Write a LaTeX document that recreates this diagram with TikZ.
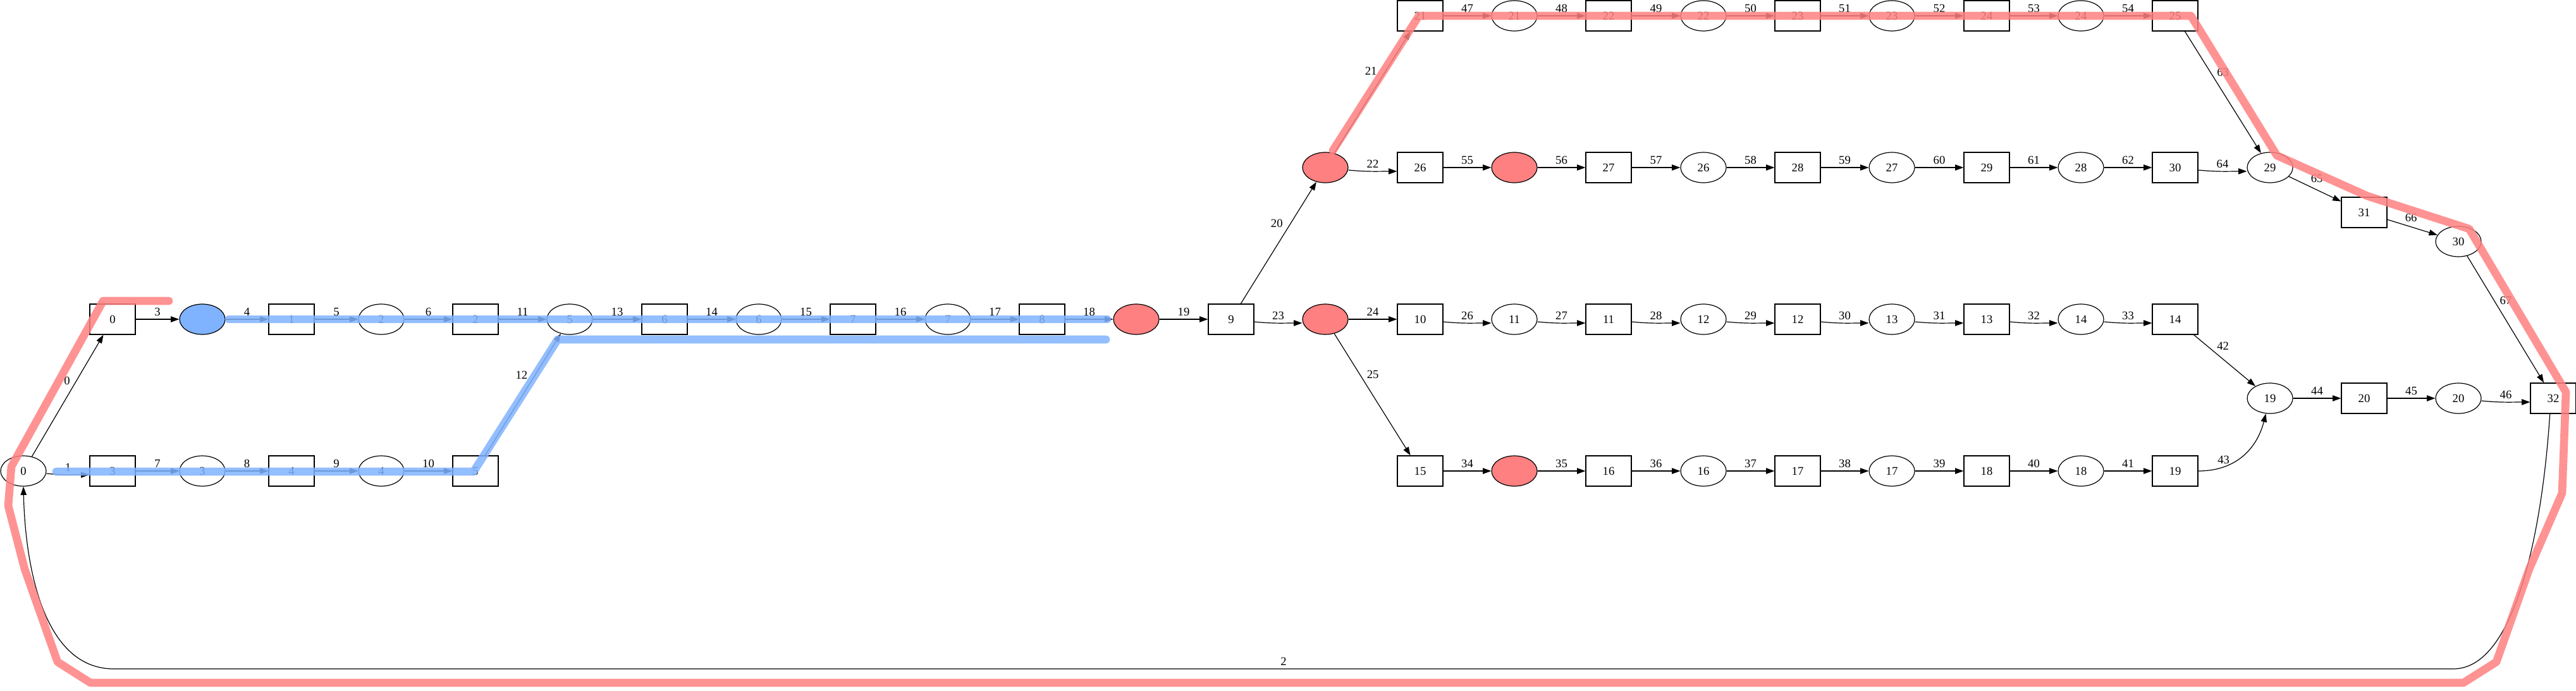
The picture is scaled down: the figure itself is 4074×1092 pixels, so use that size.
\documentclass[tikz,border=0pt]{standalone}
\usepackage{fontspec}
\setmainfont{Liberation Serif}
\usetikzlibrary{shapes.geometric,arrows.meta}
\definecolor{hotred}{RGB}{255,128,128}
\definecolor{hotblue}{RGB}{128,179,255}
\tikzset{
  bx/.style={draw,rectangle,minimum width=54pt,minimum height=36pt,inner sep=0pt},
  pl/.style={draw,ellipse,minimum width=54pt,minimum height=36pt,inner sep=0pt},
  redpl/.style={pl,fill=hotred},
  bluepl/.style={pl,fill=hotblue},
  lab/.style={inner sep=0pt,above=3.5pt},
  dl/.style={inner sep=0pt},
  sag/.style={to path={([yshift=-3pt]\tikztostart.east) .. controls +(30,3) and +(-30,0) .. ([yshift=-4.5pt]\tikztotarget.west) \tikztonodes}},
  hl/.style={line width=9.5pt,opacity=.85,line cap=round,line join=round}
}
\begin{document}
\begin{tikzpicture}[>={Triangle[length=10pt,width=7pt]},x=.75pt,y=-.75pt,line width=.9pt,font=\fontsize{14}{16}\selectfont]
\useasboundingbox (0,0) rectangle (4074,1092);
% top row
\path (2246,25) node[bx] (T15) {21} (2395,25) node[pl] (T16) {21} (2544,25) node[bx] (T17) {22}
  (2694,25) node[pl] (T18) {22} (2843,25) node[bx] (T19) {23} (2992,25) node[pl] (T20) {23}
  (3142,25) node[bx] (T21) {24} (3291,25) node[pl] (T22) {24} (3440,25) node[bx] (T23) {25};
% second row
\path (2096,265) node[redpl] (U14) {} (2246,265) node[bx] (U15) {26} (2395,265) node[redpl] (U16) {}
  (2544,265) node[bx] (U17) {27} (2694,265) node[pl] (U18) {26} (2843,265) node[bx] (U19) {28}
  (2992,265) node[pl] (U20) {27} (3142,265) node[bx] (U21) {29} (3291,265) node[pl] (U22) {28}
  (3440,265) node[bx] (U23) {30} (3590,265) node[pl] (U24) {29}
  (3739,336) node[bx] (S25) {31} (3888,382) node[pl] (S26) {30};
% middle row
\path (178,505) node[bx] (A1) {0} (320,505) node[bluepl] (A2) {} (461,505) node[bx] (A3) {1}
  (603,505) node[pl] (A4) {2} (752,505) node[bx] (A5) {2} (901,505) node[pl] (A6) {5}
  (1051,505) node[bx] (A7) {6} (1200,505) node[pl] (A8) {6} (1349,505) node[bx] (A9) {7}
  (1499,505) node[pl] (A10) {7} (1648,505) node[bx] (A11) {8} (1797,505) node[redpl] (A12) {}
  (1947,505) node[bx] (A13) {9} (2096,505) node[redpl] (A14) {} (2246,505) node[bx] (A15) {10}
  (2395,505) node[pl] (A16) {11} (2544,505) node[bx] (A17) {11} (2694,505) node[pl] (A18) {12}
  (2843,505) node[bx] (A19) {12} (2992,505) node[pl] (A20) {13} (3142,505) node[bx] (A21) {13}
  (3291,505) node[pl] (A22) {14} (3440,505) node[bx] (A23) {14};
\path (3590,630) node[pl] (M24) {19} (3739,630) node[bx] (M25) {20} (3888,630) node[pl] (M26) {20}
  (4038,630) node[bx] (M27) {32};
% bottom row
\path (37,745) node[pl] (B0) {0} (178,745) node[bx] (B1) {3} (320,745) node[pl] (B2) {3}
  (461,745) node[bx] (B3) {4} (603,745) node[pl] (B4) {4} (752,745) node[bx] (B5) {5}
  (2246,745) node[bx] (B15) {15} (2395,745) node[redpl] (B16) {} (2544,745) node[bx] (B17) {16}
  (2694,745) node[pl] (B18) {16} (2843,745) node[bx] (B19) {17} (2992,745) node[pl] (B20) {17}
  (3142,745) node[bx] (B21) {18} (3291,745) node[pl] (B22) {18} (3440,745) node[bx] (B23) {19};
% edges
\path (B0) edge[->] node[dl,pos=.62,left=7pt]{0} (A1)
  (B0) edge[->,sag] node[lab]{1} (B1) (B1) edge[->] node[lab]{7} (B2) (B2) edge[->] node[lab]{8} (B3)
  (B3) edge[->] node[lab]{9} (B4) (B4) edge[->] node[lab]{10} (B5)
  (B5) edge[->] node[dl,pos=.66,left=8.5pt]{12} (A6);
\path (A1) edge[->] node[lab]{3} (A2) (A2) edge[->] node[lab]{4} (A3) (A3) edge[->] node[lab]{5} (A4)
  (A4) edge[->] node[lab]{6} (A5) (A5) edge[->] node[lab]{11} (A6) (A6) edge[->] node[lab]{13} (A7)
  (A7) edge[->] node[lab]{14} (A8) (A8) edge[->] node[lab]{15} (A9) (A9) edge[->] node[lab]{16} (A10)
  (A10) edge[->] node[lab]{17} (A11) (A11) edge[->] node[lab]{18} (A12) (A12) edge[->] node[lab]{19} (A13)
  (A13) edge[->,sag] node[lab]{23} (A14) (A14) edge[->] node[lab]{24} (A15)
  (A15) edge[->,sag] node[lab]{26} (A16) (A16) edge[->,sag] node[lab]{27} (A17)
  (A17) edge[->,sag] node[lab]{28} (A18) (A18) edge[->,sag] node[lab]{29} (A19)
  (A19) edge[->,sag] node[lab]{30} (A20) (A20) edge[->,sag] node[lab]{31} (A21)
  (A21) edge[->,sag] node[lab]{32} (A22) (A22) edge[->,sag] node[lab]{33} (A23)
  (A23) edge[->] node[dl,pos=.22,right=11pt]{42} (M24);
\path (A13) edge[->] node[dl,pos=.66,left=9pt]{20} (U14)
  (U14) edge[->] node[dl,pos=.675,left=10pt]{21} (T15)
  (A14) edge[->] node[dl,pos=.335,right=8pt]{25} (B15);
\path (T15) edge[->] node[lab]{47} (T16) (T16) edge[->] node[lab]{48} (T17) (T17) edge[->] node[lab]{49} (T18)
  (T18) edge[->] node[lab]{50} (T19) (T19) edge[->] node[lab]{51} (T20) (T20) edge[->] node[lab]{52} (T21)
  (T21) edge[->] node[lab]{53} (T22) (T22) edge[->] node[lab]{54} (T23)
  (T23) edge[->] node[dl,pos=.335,right=7.5pt]{63} (U24);
\path (U14) edge[->,sag] node[lab]{22} (U15) (U15) edge[->] node[lab]{55} (U16) (U16) edge[->] node[lab]{56} (U17)
  (U17) edge[->] node[lab]{57} (U18) (U18) edge[->] node[lab]{58} (U19) (U19) edge[->] node[lab]{59} (U20)
  (U20) edge[->] node[lab]{60} (U21) (U21) edge[->] node[lab]{61} (U22) (U22) edge[->] node[lab]{62} (U23)
  (U23) edge[->,sag] node[lab]{64} (U24)
  (U24) edge[->] node[dl,pos=.536,above=8pt]{65} (S25) (S25) edge[->] node[dl,pos=.475,above=6pt]{66} (S26)
  (S26) edge[->] node[dl,pos=.35,right=6.5pt]{67} (M27);
\path (B15) edge[->] node[lab]{34} (B16) (B16) edge[->] node[lab]{35} (B17) (B17) edge[->] node[lab]{36} (B18)
  (B18) edge[->] node[lab]{37} (B19) (B19) edge[->] node[lab]{38} (B20) (B20) edge[->] node[lab]{39} (B21)
  (B21) edge[->] node[lab]{40} (B22) (B22) edge[->] node[lab]{41} (B23)
  (B23) edge[->,to path={(\tikztostart.east) .. controls +(60,0) and +(-14,55) .. (\tikztotarget.-105) \tikztonodes}] node[dl,pos=.25,above=3pt]{43} (M24)
  (M24) edge[->] node[lab]{44} (M25) (M25) edge[->] node[lab]{45} (M26) (M26) edge[->,sag] node[lab]{46} (M27);
\draw[->] ([xshift=-4pt]M27.south) .. controls (4020,850) and (3975,1058) .. (3880,1058) -- node[lab]{2} (180,1058)
  .. controls (70,1058) and (40,900) .. (B0.south);
% highlighted paths
\draw[hl,hotred] (2108,238) -- (2244,25) -- (3465,25) -- (3601,246) -- (3744,310) -- (3905,362) -- (4058,620)
  -- (4052,780) -- (4000,900) -- (3948,1047) -- (3896,1080) -- (143,1080) -- (91,1047) -- (39,900)
  -- (13,800) -- (18,738) -- (163,476) -- (267,476);
\draw[hl,hotblue] (362,505) -- (1751,505);
\draw[hl,hotblue] (89,746) -- (749,746) -- (882,537) -- (1749,537);
\end{tikzpicture}
\end{document}
